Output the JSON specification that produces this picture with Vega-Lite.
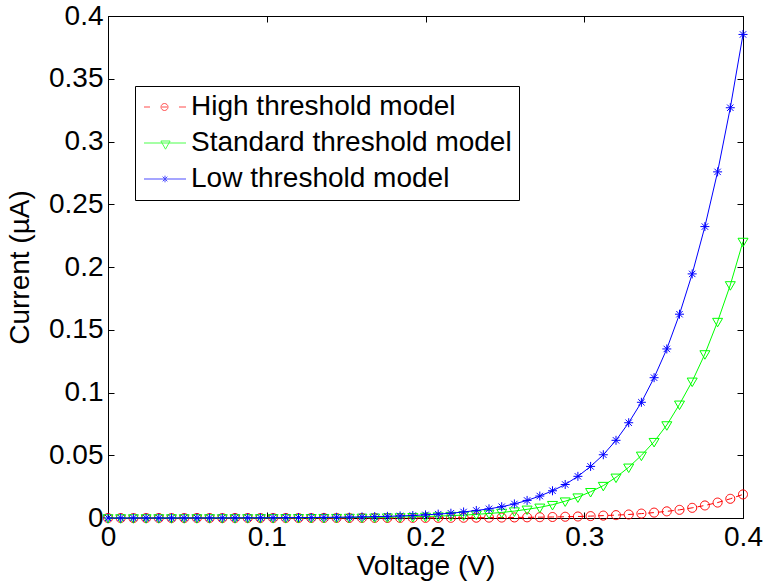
{
  "$schema": "https://vega.github.io/schema/vega-lite/v6.json",
  "width": 635,
  "height": 502,
  "autosize": {"type": "none"},
  "padding": {"left": 108, "top": 16, "right": 23, "bottom": 68},
  "background": "white",
  "config": {
    "view": {"stroke": "black", "strokeWidth": 1},
    "font": "Liberation Sans"
  },
  "datasets": {
    "high": [
      {"voltage": 0, "current": 0}, {"voltage": 0.008, "current": 0}, {"voltage": 0.016, "current": 0}, {"voltage": 0.024, "current": 0}, {"voltage": 0.032, "current": 0}, {"voltage": 0.04, "current": 0}, {"voltage": 0.048, "current": 0}, {"voltage": 0.056, "current": 0}, {"voltage": 0.064, "current": 0}, {"voltage": 0.072, "current": 0},
      {"voltage": 0.08, "current": 0.00001}, {"voltage": 0.088, "current": 0.00001}, {"voltage": 0.096, "current": 0.00001}, {"voltage": 0.104, "current": 0.00001}, {"voltage": 0.112, "current": 0.00001}, {"voltage": 0.12, "current": 0.00001}, {"voltage": 0.128, "current": 0.00002}, {"voltage": 0.136, "current": 0.00002}, {"voltage": 0.144, "current": 0.00003}, {"voltage": 0.152, "current": 0.00003},
      {"voltage": 0.16, "current": 0.00004}, {"voltage": 0.168, "current": 0.00005}, {"voltage": 0.176, "current": 0.00006}, {"voltage": 0.184, "current": 0.00007}, {"voltage": 0.192, "current": 0.00009}, {"voltage": 0.2, "current": 0.00011}, {"voltage": 0.208, "current": 0.00013}, {"voltage": 0.216, "current": 0.00016}, {"voltage": 0.224, "current": 0.0002}, {"voltage": 0.232, "current": 0.00024},
      {"voltage": 0.24, "current": 0.0003}, {"voltage": 0.248, "current": 0.00036}, {"voltage": 0.256, "current": 0.00044}, {"voltage": 0.264, "current": 0.00054}, {"voltage": 0.272, "current": 0.00066}, {"voltage": 0.28, "current": 0.0008}, {"voltage": 0.288, "current": 0.001}, {"voltage": 0.296, "current": 0.0012}, {"voltage": 0.304, "current": 0.0015}, {"voltage": 0.312, "current": 0.0019},
      {"voltage": 0.32, "current": 0.0023}, {"voltage": 0.328, "current": 0.0028}, {"voltage": 0.336, "current": 0.0035}, {"voltage": 0.344, "current": 0.0043}, {"voltage": 0.352, "current": 0.0053}, {"voltage": 0.36, "current": 0.0065}, {"voltage": 0.368, "current": 0.0081}, {"voltage": 0.376, "current": 0.01}, {"voltage": 0.384, "current": 0.0123}, {"voltage": 0.392, "current": 0.0153},
      {"voltage": 0.4, "current": 0.0188}
    ],
    "standard": [
      {"voltage": 0, "current": 0}, {"voltage": 0.008, "current": 0.00001}, {"voltage": 0.016, "current": 0.00001}, {"voltage": 0.024, "current": 0.00001}, {"voltage": 0.032, "current": 0.00002}, {"voltage": 0.04, "current": 0.00002}, {"voltage": 0.048, "current": 0.00002}, {"voltage": 0.056, "current": 0.00003}, {"voltage": 0.064, "current": 0.00004}, {"voltage": 0.072, "current": 0.00004},
      {"voltage": 0.08, "current": 0.00005}, {"voltage": 0.088, "current": 0.00007}, {"voltage": 0.096, "current": 0.00008}, {"voltage": 0.104, "current": 0.0001}, {"voltage": 0.112, "current": 0.00012}, {"voltage": 0.12, "current": 0.00015}, {"voltage": 0.128, "current": 0.00019}, {"voltage": 0.136, "current": 0.00023}, {"voltage": 0.144, "current": 0.00028}, {"voltage": 0.152, "current": 0.00035},
      {"voltage": 0.16, "current": 0.00043}, {"voltage": 0.168, "current": 0.00053}, {"voltage": 0.176, "current": 0.00065}, {"voltage": 0.184, "current": 0.0008}, {"voltage": 0.192, "current": 0.00098}, {"voltage": 0.2, "current": 0.0012}, {"voltage": 0.208, "current": 0.0015}, {"voltage": 0.216, "current": 0.0019}, {"voltage": 0.224, "current": 0.0023}, {"voltage": 0.232, "current": 0.0029},
      {"voltage": 0.24, "current": 0.0036}, {"voltage": 0.248, "current": 0.0044}, {"voltage": 0.256, "current": 0.0055}, {"voltage": 0.264, "current": 0.0069}, {"voltage": 0.272, "current": 0.0085}, {"voltage": 0.28, "current": 0.0106}, {"voltage": 0.288, "current": 0.0134}, {"voltage": 0.296, "current": 0.0166}, {"voltage": 0.304, "current": 0.0209}, {"voltage": 0.312, "current": 0.0258},
      {"voltage": 0.32, "current": 0.0324}, {"voltage": 0.328, "current": 0.0404}, {"voltage": 0.336, "current": 0.0499}, {"voltage": 0.344, "current": 0.0608}, {"voltage": 0.352, "current": 0.0741}, {"voltage": 0.36, "current": 0.0906}, {"voltage": 0.368, "current": 0.1089}, {"voltage": 0.376, "current": 0.1307}, {"voltage": 0.384, "current": 0.1565}, {"voltage": 0.392, "current": 0.1857},
      {"voltage": 0.4, "current": 0.2203}
    ],
    "low": [
      {"voltage": 0, "current": 0}, {"voltage": 0.008, "current": 0.00002}, {"voltage": 0.016, "current": 0.00002}, {"voltage": 0.024, "current": 0.00003}, {"voltage": 0.032, "current": 0.00003}, {"voltage": 0.04, "current": 0.00004}, {"voltage": 0.048, "current": 0.00005}, {"voltage": 0.056, "current": 0.00006}, {"voltage": 0.064, "current": 0.00007}, {"voltage": 0.072, "current": 0.00009},
      {"voltage": 0.08, "current": 0.00011}, {"voltage": 0.088, "current": 0.00014}, {"voltage": 0.096, "current": 0.00017}, {"voltage": 0.104, "current": 0.00021}, {"voltage": 0.112, "current": 0.00026}, {"voltage": 0.12, "current": 0.00031}, {"voltage": 0.128, "current": 0.00039}, {"voltage": 0.136, "current": 0.00048}, {"voltage": 0.144, "current": 0.00059}, {"voltage": 0.152, "current": 0.00072},
      {"voltage": 0.16, "current": 0.00089}, {"voltage": 0.168, "current": 0.00109}, {"voltage": 0.176, "current": 0.00134}, {"voltage": 0.184, "current": 0.00165}, {"voltage": 0.192, "current": 0.002}, {"voltage": 0.2, "current": 0.0025}, {"voltage": 0.208, "current": 0.0031}, {"voltage": 0.216, "current": 0.0038}, {"voltage": 0.224, "current": 0.0048}, {"voltage": 0.232, "current": 0.006},
      {"voltage": 0.24, "current": 0.0073}, {"voltage": 0.248, "current": 0.009}, {"voltage": 0.256, "current": 0.0112}, {"voltage": 0.264, "current": 0.014}, {"voltage": 0.272, "current": 0.0175}, {"voltage": 0.28, "current": 0.0217}, {"voltage": 0.288, "current": 0.0267}, {"voltage": 0.296, "current": 0.0332}, {"voltage": 0.304, "current": 0.0411}, {"voltage": 0.312, "current": 0.0504},
      {"voltage": 0.32, "current": 0.0619}, {"voltage": 0.328, "current": 0.0759}, {"voltage": 0.336, "current": 0.0922}, {"voltage": 0.344, "current": 0.1118}, {"voltage": 0.352, "current": 0.1347}, {"voltage": 0.36, "current": 0.1624}, {"voltage": 0.368, "current": 0.1945}, {"voltage": 0.376, "current": 0.2322}, {"voltage": 0.384, "current": 0.2758}, {"voltage": 0.392, "current": 0.3269},
      {"voltage": 0.4, "current": 0.3853}
    ],
    "none": []
  },
  "resolve": {"axis": {"x": "independent", "y": "independent"}},
  "layer": [
    {
      "data": {"name": "high"},
      "mark": {"type": "line", "color": "#ff0000", "strokeWidth": 1, "strokeDash": [6, 4],
        "point": {"shape": "M-1,0A1,1 0 1,1 1,0A1,1 0 1,1 -1,0Z", "filled": false, "size": 81, "color": "#ff0000", "strokeWidth": 1, "strokeDash": [1, 0]}},
      "encoding": {
        "x": {"field": "voltage", "type": "quantitative", "scale": {"domain": [0, 0.4], "nice": false, "zero": false}, "axis": null},
        "y": {"field": "current", "type": "quantitative", "scale": {"domain": [0, 0.4], "nice": false, "zero": false}, "axis": null}
      }
    },
    {
      "data": {"name": "standard"},
      "mark": {"type": "line", "color": "#00ff00", "strokeWidth": 1,
        "point": {"shape": "M-1,-0.65H1L0,1.05Z", "filled": false, "size": 100, "color": "#00ff00", "strokeWidth": 1}},
      "encoding": {
        "x": {"field": "voltage", "type": "quantitative", "axis": null},
        "y": {"field": "current", "type": "quantitative", "axis": null}
      }
    },
    {
      "data": {"name": "low"},
      "mark": {"type": "line", "color": "#0000ff", "strokeWidth": 1,
        "point": {"shape": "M-1,0H1M0,-1V1M-0.71,-0.71L0.71,0.71M-0.71,0.71L0.71,-0.71", "filled": false, "size": 81, "color": "#0000ff", "strokeWidth": 1}},
      "encoding": {
        "x": {"field": "voltage", "type": "quantitative", "axis": null},
        "y": {"field": "current", "type": "quantitative", "axis": null}
      }
    },
    {
      "data": {"name": "none"},
      "mark": {"type": "point", "filled": false, "size": 64, "strokeWidth": 1},
      "encoding": {
        "x": {"field": "voltage", "type": "quantitative",
          "axis": {"orient": "bottom", "values": [0, 0.1, 0.2, 0.3, 0.4], "format": "~g", "grid": false,
            "labelFontSize": 28, "labelFont": "Liberation Sans", "labelColor": "black", "labelPadding": 11,
            "labelFlush": false, "labelOverlap": false, "labelBound": false,
            "tickSize": -6, "tickColor": "black", "tickWidth": 1, "domainColor": "black", "domainWidth": 1,
            "title": "Voltage (V)", "titleFontSize": 28, "titleFont": "Liberation Sans", "titleFontWeight": "normal", "titleColor": "black", "titlePadding": 1}},
        "y": {"field": "current", "type": "quantitative",
          "axis": {"orient": "left", "values": [0, 0.05, 0.1, 0.15, 0.2, 0.25, 0.3, 0.35, 0.4], "format": "~g", "grid": false,
            "labelFontSize": 28, "labelFont": "Liberation Sans", "labelColor": "black", "labelPadding": 11,
            "labelFlush": false, "labelOverlap": false, "labelBound": false,
            "tickSize": -6, "tickColor": "black", "tickWidth": 1, "domainColor": "black", "domainWidth": 1,
            "title": "Current (µA)", "titleFontSize": 28, "titleFont": "Liberation Sans", "titleFontWeight": "normal", "titleColor": "black", "titlePadding": 14}},
        "color": {"field": "model", "type": "nominal",
          "scale": {"domain": ["High threshold model", "Standard threshold model", "Low threshold model"], "range": ["#ff0000", "#00ff00", "#0000ff"]},
          "legend": {"orient": "none", "legendX": 27, "legendY": 70, "title": null, "direction": "vertical",
            "labelFontSize": 28, "labelFont": "Liberation Sans", "labelColor": "black", "labelLimit": 1000, "labelOffset": 21,
            "symbolSize": 64, "symbolStrokeWidth": 1, "padding": 7, "rowPadding": 8,
            "strokeColor": "black", "fillColor": "white", "cornerRadius": 0}},
        "shape": {"field": "model", "type": "nominal",
          "scale": {"domain": ["High threshold model", "Standard threshold model", "Low threshold model"],
            "range": [
              "M-3,0H-1.5M1.5,0H2.75M5.75,0H7.5M1.25,0A0.875,0.875 0 1,1 3,0A0.875,0.875 0 1,1 1.25,0Z",
              "M-3,0H7.5M1.225,-0.5H3.525L2.375,1.55Z",
              "M-3,0H7.5M2.25,-0.83V0.83M1.66,-0.59L2.84,0.59M1.66,0.59L2.84,-0.59"
            ]},
          "legend": {"orient": "none", "legendX": 27, "legendY": 70, "title": null, "direction": "vertical",
            "labelFontSize": 28, "labelFont": "Liberation Sans", "labelColor": "black", "labelLimit": 1000, "labelOffset": 21,
            "symbolSize": 64, "symbolStrokeWidth": 1, "padding": 7, "rowPadding": 8,
            "strokeColor": "black", "fillColor": "white", "cornerRadius": 0}}
      }
    },
    {
      "data": {"name": "none"},
      "mark": {"type": "point"},
      "encoding": {
        "x": {"field": "voltage", "type": "quantitative",
          "axis": {"orient": "top", "values": [0, 0.1, 0.2, 0.3, 0.4], "labels": false, "title": null, "domain": false, "grid": false,
            "tickSize": -6, "tickColor": "black", "tickWidth": 1}},
        "y": {"field": "current", "type": "quantitative",
          "axis": {"orient": "right", "values": [0, 0.05, 0.1, 0.15, 0.2, 0.25, 0.3, 0.35, 0.4], "labels": false, "title": null, "domain": false, "grid": false,
            "tickSize": -6, "tickColor": "black", "tickWidth": 1}}
      }
    }
  ]
}
